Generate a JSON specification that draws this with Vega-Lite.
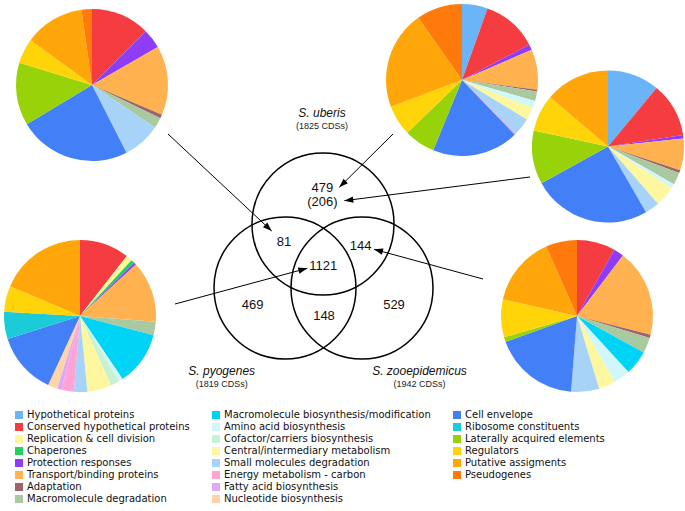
{
  "$schema": "https://vega.github.io/schema/vega-lite/v6.json",
  "width": 685,
  "height": 511,
  "padding": 0,
  "autosize": {"type": "none"},
  "background": "white",
  "config": {"view": {"stroke": null}},
  "datasets": {
    "pies": [
      {"pie": "81", "px": 92, "py": 85},
      {"pie": "479", "px": 462, "py": 80},
      {"pie": "206", "px": 608, "py": 146.5},
      {"pie": "1121", "px": 80, "py": 316},
      {"pie": "144", "px": 577, "py": 316}
    ],
    "slices": [
      {"pie": "81", "cat": "Conserved hypothetical proteins", "share": 45},
      {"pie": "81", "cat": "Protection responses", "share": 15},
      {"pie": "81", "cat": "Transport/binding proteins", "share": 53},
      {"pie": "81", "cat": "Adaptation", "share": 3},
      {"pie": "81", "cat": "Macromolecule degradation", "share": 8},
      {"pie": "81", "cat": "Small molecules degradation", "share": 29},
      {"pie": "81", "cat": "Cell envelope", "share": 86},
      {"pie": "81", "cat": "Laterally acquired elements", "share": 48},
      {"pie": "81", "cat": "Regulators", "share": 19},
      {"pie": "81", "cat": "Putative assigments", "share": 46},
      {"pie": "81", "cat": "Pseudogenes", "share": 8},

      {"pie": "479", "cat": "Hypothetical proteins", "share": 19.6},
      {"pie": "479", "cat": "Conserved hypothetical proteins", "share": 42.7},
      {"pie": "479", "cat": "Protection responses", "share": 4.2},
      {"pie": "479", "cat": "Transport/binding proteins", "share": 30.8},
      {"pie": "479", "cat": "Adaptation", "share": 1.3},
      {"pie": "479", "cat": "Macromolecule degradation", "share": 7.3},
      {"pie": "479", "cat": "Amino acid biosynthesis", "share": 5.6},
      {"pie": "479", "cat": "Central/intermediary metabolism", "share": 9.7},
      {"pie": "479", "cat": "Small molecules degradation", "share": 13.6},
      {"pie": "479", "cat": "Fatty acid biosynthesis", "share": 1.2},
      {"pie": "479", "cat": "Cell envelope", "share": 66.2},
      {"pie": "479", "cat": "Laterally acquired elements", "share": 23.7},
      {"pie": "479", "cat": "Regulators", "share": 23.3},
      {"pie": "479", "cat": "Putative assigments", "share": 75.5},
      {"pie": "479", "cat": "Pseudogenes", "share": 35.1},

      {"pie": "206", "cat": "Hypothetical proteins", "share": 39.7},
      {"pie": "206", "cat": "Conserved hypothetical proteins", "share": 41.6},
      {"pie": "206", "cat": "Protection responses", "share": 2.6},
      {"pie": "206", "cat": "Transport/binding proteins", "share": 24.4},
      {"pie": "206", "cat": "Adaptation", "share": 2.2},
      {"pie": "206", "cat": "Macromolecule degradation", "share": 9.3},
      {"pie": "206", "cat": "Amino acid biosynthesis", "share": 3.6},
      {"pie": "206", "cat": "Central/intermediary metabolism", "share": 15.4},
      {"pie": "206", "cat": "Small molecules degradation", "share": 11.2},
      {"pie": "206", "cat": "Cell envelope", "share": 91.1},
      {"pie": "206", "cat": "Laterally acquired elements", "share": 41},
      {"pie": "206", "cat": "Regulators", "share": 28.3},
      {"pie": "206", "cat": "Putative assigments", "share": 49.6},

      {"pie": "1121", "cat": "Conserved hypothetical proteins", "share": 38},
      {"pie": "1121", "cat": "Replication & cell division", "share": 4.7},
      {"pie": "1121", "cat": "Chaperones", "share": 2.9},
      {"pie": "1121", "cat": "Protection responses", "share": 1.7},
      {"pie": "1121", "cat": "Transport/binding proteins", "share": 47.1},
      {"pie": "1121", "cat": "Macromolecule degradation", "share": 10.2},
      {"pie": "1121", "cat": "Macromolecule biosynthesis/modification", "share": 41.4},
      {"pie": "1121", "cat": "Amino acid biosynthesis", "share": 3.1},
      {"pie": "1121", "cat": "Cofactor/carriers biosynthesis", "share": 6.9},
      {"pie": "1121", "cat": "Central/intermediary metabolism", "share": 18.4},
      {"pie": "1121", "cat": "Small molecules degradation", "share": 10.2},
      {"pie": "1121", "cat": "Energy metabolism - carbon", "share": 9.5},
      {"pie": "1121", "cat": "Fatty acid biosynthesis", "share": 3.4},
      {"pie": "1121", "cat": "Nucleotide biosynthesis", "share": 7.3},
      {"pie": "1121", "cat": "Cell envelope", "share": 47.5},
      {"pie": "1121", "cat": "Ribosome constituents", "share": 20.9},
      {"pie": "1121", "cat": "Regulators", "share": 19.9},
      {"pie": "1121", "cat": "Putative assigments", "share": 66.9},

      {"pie": "144", "cat": "Conserved hypothetical proteins", "share": 29.4},
      {"pie": "144", "cat": "Protection responses", "share": 7.8},
      {"pie": "144", "cat": "Transport/binding proteins", "share": 67.1},
      {"pie": "144", "cat": "Adaptation", "share": 2.6},
      {"pie": "144", "cat": "Macromolecule degradation", "share": 11.7},
      {"pie": "144", "cat": "Macromolecule biosynthesis/modification", "share": 18.9},
      {"pie": "144", "cat": "Amino acid biosynthesis", "share": 12.7},
      {"pie": "144", "cat": "Central/intermediary metabolism", "share": 12.8},
      {"pie": "144", "cat": "Small molecules degradation", "share": 21.5},
      {"pie": "144", "cat": "Cell envelope", "share": 65.6},
      {"pie": "144", "cat": "Laterally acquired elements", "share": 3.6},
      {"pie": "144", "cat": "Regulators", "share": 29},
      {"pie": "144", "cat": "Putative assigments", "share": 53.4},
      {"pie": "144", "cat": "Pseudogenes", "share": 23.9}
    ],
    "sets": [
      {"set": "S. uberis", "cx": 323, "cy": 224},
      {"set": "S. pyogenes", "cx": 285, "cy": 288},
      {"set": "S. zooepidemicus", "cx": 362, "cy": 288}
    ],
    "arrows": [
      {"to": "81", "x1": 168, "y1": 134, "x2": 271.7, "y2": 231, "heading": 133.1},
      {"to": "479", "x1": 393, "y1": 134, "x2": 339.3, "y2": 187.3, "heading": 225.2},
      {"to": "206", "x1": 530, "y1": 177, "x2": 344.3, "y2": 200.7, "heading": 262.7},
      {"to": "1121", "x1": 175, "y1": 304, "x2": 307.3, "y2": 268.3, "heading": 74.9},
      {"to": "144", "x1": 483, "y1": 279, "x2": 374, "y2": 249.3, "heading": 285.2}
    ],
    "counts": [
      {"label": "479", "x": 322.3, "y": 188.3},
      {"label": "(206)", "x": 322.3, "y": 202.3},
      {"label": "81", "x": 284, "y": 242.3},
      {"label": "144", "x": 360.7, "y": 246},
      {"label": "1121", "x": 323.3, "y": 266},
      {"label": "469", "x": 252.7, "y": 305},
      {"label": "148", "x": 324, "y": 315.7},
      {"label": "529", "x": 394, "y": 305}
    ],
    "species": [
      {"name": "S. uberis", "cds": "(1825 CDSs)", "x": 322, "y": 113},
      {"name": "S. pyogenes", "cds": "(1819 CDSs)", "x": 221.7, "y": 371},
      {"name": "S. zooepidemicus", "cds": "(1942 CDSs)", "x": 419.5, "y": 371}
    ]
  },
  "layer": [
    {
      "data": {"name": "slices"},
      "transform": [
        {"lookup": "pie", "from": {"data": {"name": "pies"}, "key": "pie", "fields": ["px", "py"]}},
        {"stack": "share", "groupby": ["pie"], "offset": "normalize", "as": ["t0", "t1"]}
      ],
      "mark": {"type": "arc", "radius": 76},
      "encoding": {
        "x": {"field": "px", "type": "quantitative", "scale": {"domain": [0, 685], "nice": false, "zero": false}, "axis": null},
        "y": {"field": "py", "type": "quantitative", "scale": {"domain": [0, 511], "nice": false, "zero": false, "reverse": true}, "axis": null},
        "theta": {"field": "t0", "type": "quantitative", "scale": {"domain": [0, 1]}},
        "theta2": {"field": "t1"},
        "color": {
          "field": "cat",
          "type": "nominal",
          "scale": {
            "domain": [
              "Hypothetical proteins",
              "Conserved hypothetical proteins",
              "Replication & cell division",
              "Chaperones",
              "Protection responses",
              "Transport/binding proteins",
              "Adaptation",
              "Macromolecule degradation",
              "Macromolecule biosynthesis/modification",
              "Amino acid biosynthesis",
              "Cofactor/carriers biosynthesis",
              "Central/intermediary metabolism",
              "Small molecules degradation",
              "Energy metabolism - carbon",
              "Fatty acid biosynthesis",
              "Nucleotide biosynthesis",
              "Cell envelope",
              "Ribosome constituents",
              "Laterally acquired elements",
              "Regulators",
              "Putative assigments",
              "Pseudogenes",
              " "
            ],
            "range": [
              "#6AB4F7", "#F53D41", "#FFF59A", "#22D15C", "#8E3CF5", "#FFB24F", "#9E6467", "#A9C9A1",
              "#00D4F6", "#D2F7FB", "#C9F2D2", "#FFF6A0", "#A7D3F9", "#FFA4D4", "#DDA8F8", "#FFD4A6",
              "#4380F8", "#1CCBD8", "#98D208", "#FFD50A", "#FFA70A", "#FF7A0A", "#FFFFFF"
            ]
          },
          "legend": {
            "title": null,
            "orient": "none",
            "legendX": 14,
            "legendY": 410,
            "columns": 3,
            "columnPadding": 21,
            "rowPadding": 2,
            "padding": 0,
            "symbolType": "square",
            "symbolSize": 64,
            "symbolStrokeWidth": 0,
            "symbolOpacity": 1,
            "labelFont": "DejaVu Sans",
            "labelFontSize": 10,
            "labelColor": "#111111",
            "labelLimit": 300,
            "labelOffset": 3
          }
        }
      }
    },
    {
      "data": {"name": "sets"},
      "mark": {"type": "point", "shape": "circle", "size": 20164, "filled": false, "stroke": "#000000", "strokeWidth": 1.5, "opacity": 1},
      "encoding": {
        "x": {"field": "cx", "type": "quantitative", "scale": {"domain": [0, 685], "nice": false, "zero": false}, "axis": null},
        "y": {"field": "cy", "type": "quantitative", "scale": {"domain": [0, 511], "nice": false, "zero": false, "reverse": true}, "axis": null}
      }
    },
    {
      "data": {"name": "arrows"},
      "mark": {"type": "rule", "stroke": "#000000", "strokeWidth": 1},
      "encoding": {
        "x": {"field": "x1", "type": "quantitative", "scale": {"domain": [0, 685], "nice": false, "zero": false}, "axis": null},
        "y": {"field": "y1", "type": "quantitative", "scale": {"domain": [0, 511], "nice": false, "zero": false, "reverse": true}, "axis": null},
        "x2": {"field": "x2"},
        "y2": {"field": "y2"}
      }
    },
    {
      "data": {"name": "arrows"},
      "mark": {"type": "point", "shape": "M0,0L-0.7,2L0.7,2Z", "size": 81, "filled": true, "color": "#000000", "opacity": 1, "strokeWidth": 0},
      "encoding": {
        "x": {"field": "x2", "type": "quantitative", "scale": {"domain": [0, 685], "nice": false, "zero": false}, "axis": null},
        "y": {"field": "y2", "type": "quantitative", "scale": {"domain": [0, 511], "nice": false, "zero": false, "reverse": true}, "axis": null},
        "angle": {"field": "heading", "type": "quantitative", "scale": null}
      }
    },
    {
      "data": {"name": "counts"},
      "mark": {"type": "text", "font": "Liberation Sans", "fontSize": 13, "color": "#111111", "align": "center", "baseline": "middle"},
      "encoding": {
        "x": {"field": "x", "type": "quantitative", "scale": {"domain": [0, 685], "nice": false, "zero": false}, "axis": null},
        "y": {"field": "y", "type": "quantitative", "scale": {"domain": [0, 511], "nice": false, "zero": false, "reverse": true}, "axis": null},
        "text": {"field": "label", "type": "nominal"}
      }
    },
    {
      "data": {"name": "species"},
      "mark": {"type": "text", "font": "Liberation Sans", "fontSize": 12, "fontStyle": "italic", "color": "#111111", "align": "center", "baseline": "middle"},
      "encoding": {
        "x": {"field": "x", "type": "quantitative", "scale": {"domain": [0, 685], "nice": false, "zero": false}, "axis": null},
        "y": {"field": "y", "type": "quantitative", "scale": {"domain": [0, 511], "nice": false, "zero": false, "reverse": true}, "axis": null},
        "text": {"field": "name", "type": "nominal"}
      }
    },
    {
      "data": {"name": "species"},
      "mark": {"type": "text", "font": "Liberation Sans", "fontSize": 9, "color": "#222222", "align": "center", "baseline": "middle", "dy": 13},
      "encoding": {
        "x": {"field": "x", "type": "quantitative", "scale": {"domain": [0, 685], "nice": false, "zero": false}, "axis": null},
        "y": {"field": "y", "type": "quantitative", "scale": {"domain": [0, 511], "nice": false, "zero": false, "reverse": true}, "axis": null},
        "text": {"field": "cds", "type": "nominal"}
      }
    }
  ]
}
